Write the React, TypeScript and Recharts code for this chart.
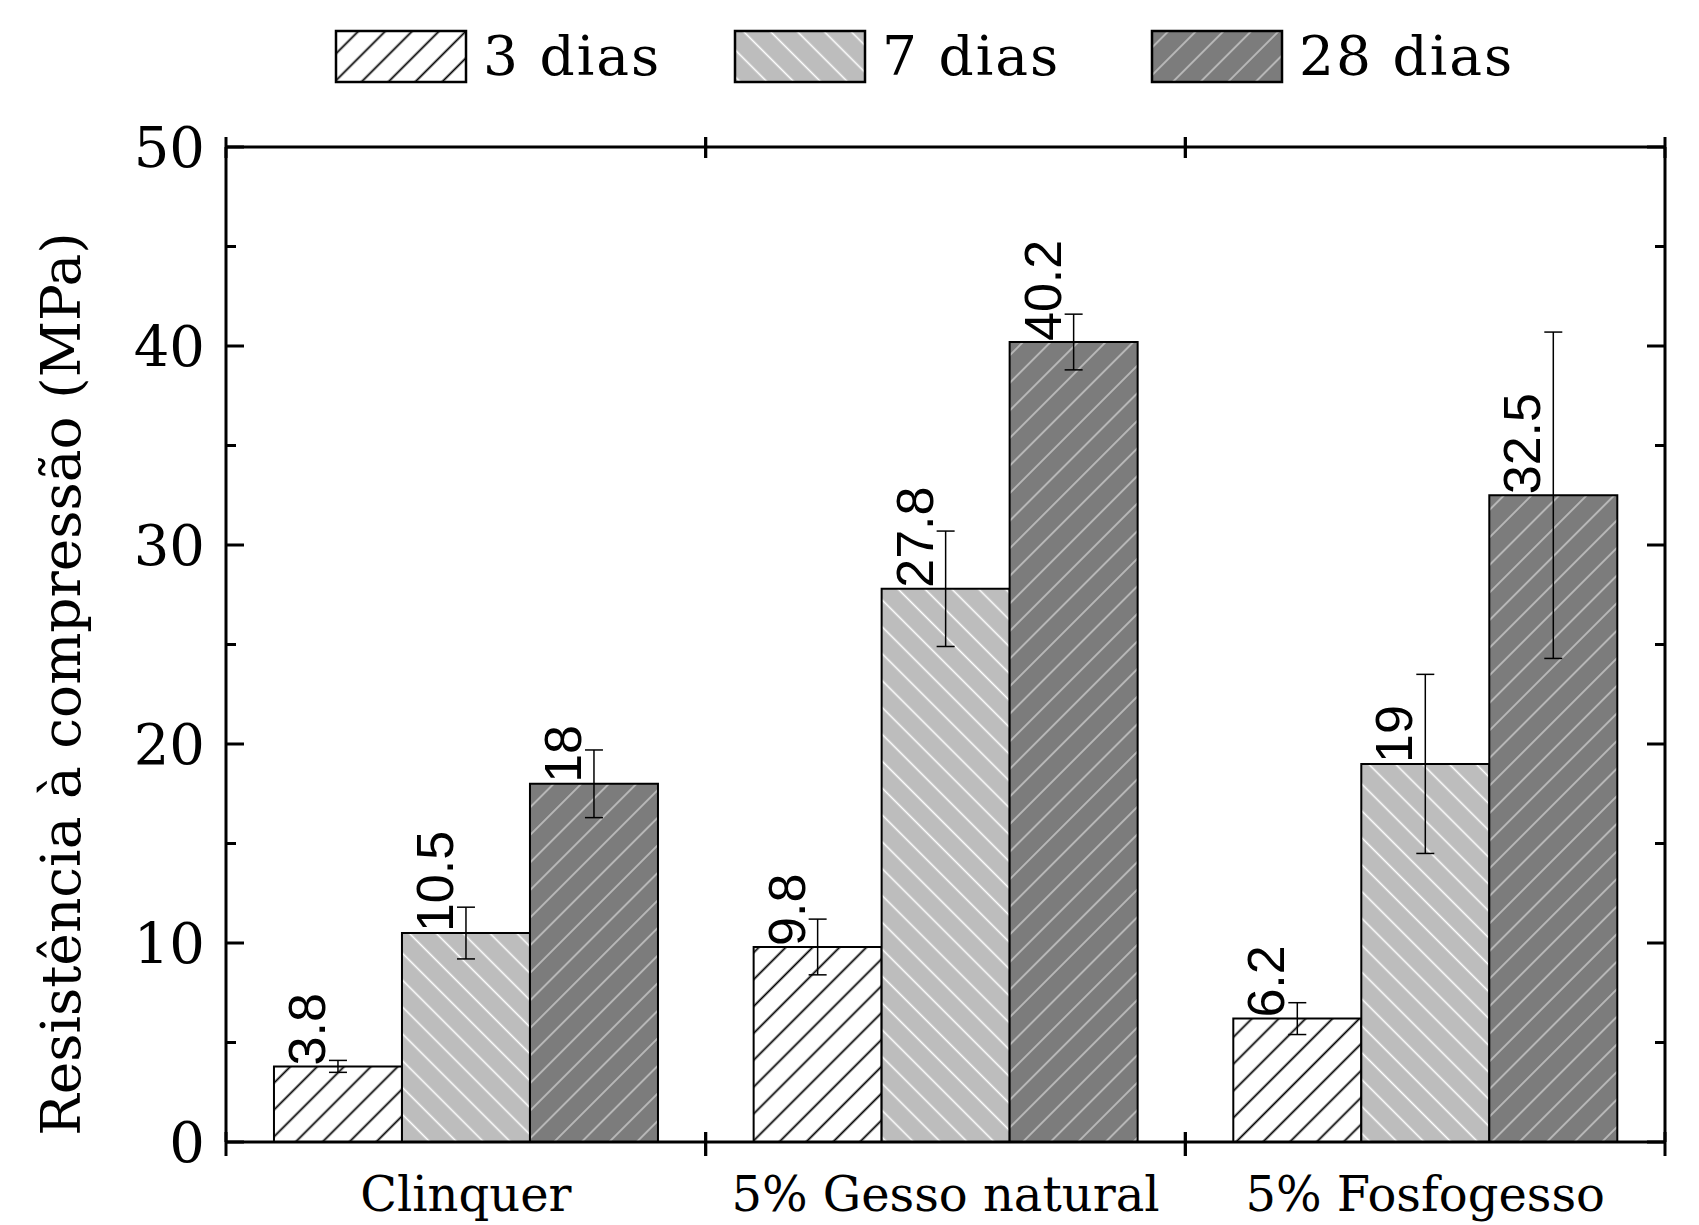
import React from 'react';
import { BarChart, Bar, XAxis, YAxis, ErrorBar, LabelList } from 'recharts';

const categories = ['Clinquer', '5% Gesso natural', '5% Fosfogesso'];
const seriesNames = ['3 dias', '7 dias', '28 dias'];
const values3 = [3.8, 9.8, 6.2];
const values7 = [10.5, 27.8, 19];
const values28 = [18, 40.2, 32.5];
const err3 = [0.3, 1.4, 0.8];
const err7 = [1.3, 2.9, 4.5];
const err28 = [1.7, 1.4, 8.2];
const yTicks = [0, 5, 10, 15, 20, 25, 30, 35, 40, 45, 50];
const yAxisTitle = 'Resistência à compressão (MPa)';

const seriesKeys = ['d3', 'd7', 'd28'];
const errKeys = ['e3', 'e7', 'e28'];
const patternIds = ['hatch3', 'hatch7', 'hatch28'];

const data = categories.map((name, i) => ({
  name,
  d3: values3[i],
  d7: values7[i],
  d28: values28[i],
  e3: err3[i],
  e7: err7[i],
  e28: err28[i],
}));

const SERIF = "'DejaVu Serif', serif";
const SANS = "'Liberation Sans', Arial, sans-serif";

const LeftTick = (props: any) => {
  const { x, y, payload } = props;
  const v = payload.value;
  const major = v % 10 === 0;
  return (
    <g>
      <line x1={x} x2={x + (major ? 18 : 10)} y1={y} y2={y} stroke="#000" strokeWidth={3} />
      {major && (
        <text x={x - 21} y={y} dy="0.36em" textAnchor="end" fontFamily={SERIF} fontSize={56} fill="#000">
          {v}
        </text>
      )}
    </g>
  );
};

const RightTick = (props: any) => {
  const { x, y, payload } = props;
  const major = payload.value % 10 === 0;
  return <line x1={x} x2={x - (major ? 18 : 10)} y1={y} y2={y} stroke="#000" strokeWidth={3} />;
};

const CatTick = (props: any) => {
  const { x, y, payload } = props;
  const off = payload.offset ?? 0;
  return (
    <g>
      <line x1={x - off} x2={x - off} y1={y - 10} y2={y + 14} stroke="#000" strokeWidth={3} />
      <line x1={x + off} x2={x + off} y1={y - 10} y2={y + 14} stroke="#000" strokeWidth={3} />
      <text x={x} y={y + 69} textAnchor="middle" fontFamily={SERIF} fontSize={48} fill="#000">
        {payload.value}
      </text>
    </g>
  );
};

const TopTick = (props: any) => {
  const { x, y, payload } = props;
  const off = payload.offset ?? 0;
  return (
    <g>
      <line x1={x - off} x2={x - off} y1={y - 10} y2={y + 11} stroke="#000" strokeWidth={3} />
      <line x1={x + off} x2={x + off} y1={y - 10} y2={y + 11} stroke="#000" strokeWidth={3} />
    </g>
  );
};

const ValueLabel = (props: any) => {
  const { x, y, width, value } = props;
  const cx = Number(x) + Number(width) / 2 - 13;
  const cy = Number(y) - 1;
  return (
    <text transform={`translate(${cx}, ${cy}) rotate(-90)`} textAnchor="start" fontFamily={SANS} fontSize={52} fill="#000">
      {value}
    </text>
  );
};

const YTitle = () => (
  <text transform="translate(80, 684) rotate(-90)" textAnchor="middle" fontFamily={SERIF} fontSize={55} fill="#000">
    {yAxisTitle}
  </text>
);

const legendBoxX = [336, 735, 1152];

const Legend = () => (
  <svg width={1699} height={110} style={{ position: 'absolute', left: 0, top: 0, pointerEvents: 'none' }}>
    <defs>
      <pattern id="hatch3" patternUnits="userSpaceOnUse" width={19} height={19} patternTransform="rotate(45)">
        <rect width={19} height={19} fill="#ffffff" />
        <line x1={9.5} y1={0} x2={9.5} y2={19} stroke="#000" strokeWidth={1.8} />
      </pattern>
      <pattern id="hatch7" patternUnits="userSpaceOnUse" width={19} height={19} patternTransform="rotate(-45)">
        <rect width={19} height={19} fill="#bdbdbd" />
        <line x1={9.5} y1={0} x2={9.5} y2={19} stroke="#ffffff" strokeWidth={1.6} />
      </pattern>
      <pattern id="hatch28" patternUnits="userSpaceOnUse" width={19.5} height={19.5} patternTransform="rotate(45)">
        <rect width={19.5} height={19.5} fill="#7c7c7c" />
        <line x1={9.75} y1={0} x2={9.75} y2={19.5} stroke="#c4c4c4" strokeWidth={1.6} />
      </pattern>
    </defs>
    {seriesNames.map((n, i) => (
      <g key={n}>
        <rect x={legendBoxX[i]} y={31} width={130} height={51} fill={`url(#${patternIds[i]})`} stroke="#000" strokeWidth={2.5} />
        <text x={legendBoxX[i] + 147} y={75} fontFamily={SERIF} fontSize={55} letterSpacing={2} fill="#000">
          {n}
        </text>
      </g>
    ))}
  </svg>
);

export default function App() {
  return (
    <div style={{ position: 'absolute', left: 0, top: 0, width: 1699, height: 1225, background: '#fff' }}>
      <BarChart
        width={1699}
        height={1225}
        data={data}
        margin={{ top: 147, right: 34, bottom: 0, left: 106 }}
        barCategoryGap="10%"
        barGap={0}
      >
        <XAxis
          xAxisId="cat"
          dataKey="name"
          orientation="bottom"
          height={83}
          axisLine={{ stroke: '#000', strokeWidth: 3 }}
          tickLine={false}
          tickSize={0}
          tickMargin={0}
          tick={<CatTick />}
          interval={0}
        />
        <XAxis
          xAxisId="top"
          dataKey="name"
          orientation="top"
          mirror
          height={1}
          axisLine={{ stroke: '#000', strokeWidth: 3 }}
          tickLine={false}
          tickSize={0}
          tickMargin={0}
          tick={<TopTick />}
          interval={0}
        />
        <YAxis
          yAxisId="L"
          orientation="left"
          width={120}
          domain={[0, 50]}
          ticks={yTicks}
          interval={0}
          allowDataOverflow
          axisLine={{ stroke: '#000', strokeWidth: 3 }}
          tickLine={false}
          tickSize={0}
          tickMargin={0}
          tick={<LeftTick />}
          label={<YTitle />}
        />
        <YAxis
          yAxisId="R"
          orientation="right"
          mirror
          width={1}
          domain={[0, 50]}
          ticks={yTicks}
          interval={0}
          allowDataOverflow
          axisLine={{ stroke: '#000', strokeWidth: 3 }}
          tickLine={false}
          tickSize={0}
          tickMargin={0}
          tick={<RightTick />}
        />
        {seriesKeys.map((k, i) => (
          <Bar
            key={k}
            dataKey={k}
            name={seriesNames[i]}
            xAxisId="cat"
            yAxisId="L"
            fill={`url(#${patternIds[i]})`}
            stroke="#000"
            strokeWidth={2}
            isAnimationActive={false}
          >
            <ErrorBar dataKey={errKeys[i]} width={9} stroke="#000" strokeWidth={1.5} direction="y" />
            <LabelList dataKey={k} content={<ValueLabel />} />
          </Bar>
        ))}
      </BarChart>
      <Legend />
    </div>
  );
}
